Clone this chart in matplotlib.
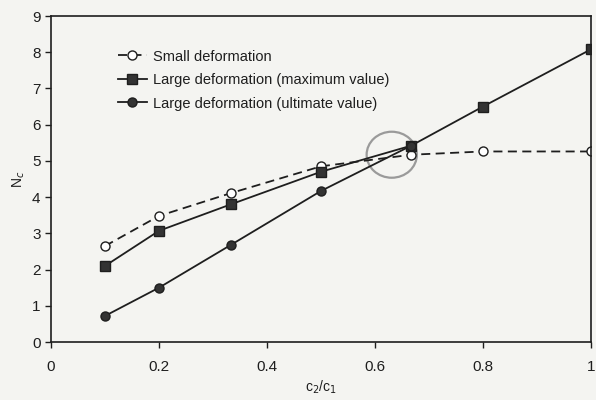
import matplotlib
matplotlib.use("Agg")
import matplotlib.pyplot as plt
from matplotlib.patches import Ellipse

plt.rcParams['font.family'] = ['Liberation Sans', 'DejaVu Sans']

# c2/c1 ratios and bearing capacity factors
ratio = [0.1, 0.2, 0.333, 0.5, 0.667, 0.8, 1.0]
nc_small = [2.65, 3.48, 4.11, 4.85, 5.17, 5.26, 5.26]
nc_large_max = [2.1, 3.07, 3.8, 4.7, 5.42, 6.5, 8.08]
ratio_ult = [0.1, 0.2, 0.333, 0.5, 0.667]
nc_large_ult = [0.72, 1.5, 2.68, 4.17, 5.42]

ink = '#1e1e1e'
bg = '#f4f4f1'

fig = plt.figure(figsize=(5.96, 4.0), dpi=100, facecolor=bg)
ax = fig.add_axes([0.0856, 0.145, 0.906, 0.815])
ax.set_facecolor(bg)

ax.plot(ratio, nc_small, '--', color=ink, lw=1.3, marker='o', ms=6.5,
        mfc='white', mec=ink, mew=1.0, dashes=(5, 3), label='Small deformation')
ax.plot(ratio, nc_large_max, '-', color=ink, lw=1.3, marker='s', ms=7,
        mfc='#333333', mec=ink, label='Large deformation (maximum value)')
ax.plot(ratio_ult, nc_large_ult, '-', color=ink, lw=1.3, marker='o', ms=6.5,
        mfc='#333333', mec=ink, label='Large deformation (ultimate value)')

# hand-drawn circle marking where the curves cross
ax.add_patch(Ellipse((0.631, 5.17), 0.093, 1.27, fill=False,
                     ec='#9a9a9a', lw=1.6, zorder=1))

ax.set_xlim(0, 1)
ax.set_ylim(0, 9)
ax.set_xticks([0, 0.2, 0.4, 0.6, 0.8, 1])
ax.set_xticklabels(['0', '0.2', '0.4', '0.6', '0.8', '1'])
ax.set_yticks(range(10))
ax.tick_params(axis='both', direction='out', length=4, width=1, colors=ink,
               labelsize=11)
ax.tick_params(axis='x', pad=9)
for s in ax.spines.values():
    s.set_color(ink)
    s.set_linewidth(1.2)

ax.set_xlabel('c$_2$/c$_1$', fontsize=10, color=ink, labelpad=3)
ax.set_ylabel('N$_c$', fontsize=10, color=ink, labelpad=4)

leg = ax.legend(loc='upper left', bbox_to_anchor=(0.113, 0.915), frameon=False,
                fontsize=10.5, handlelength=2.0, handletextpad=0.4,
                labelspacing=0.65, borderaxespad=0)
for t in leg.get_texts():
    t.set_color(ink)

fig.savefig('out.png', dpi=100, facecolor=bg)
